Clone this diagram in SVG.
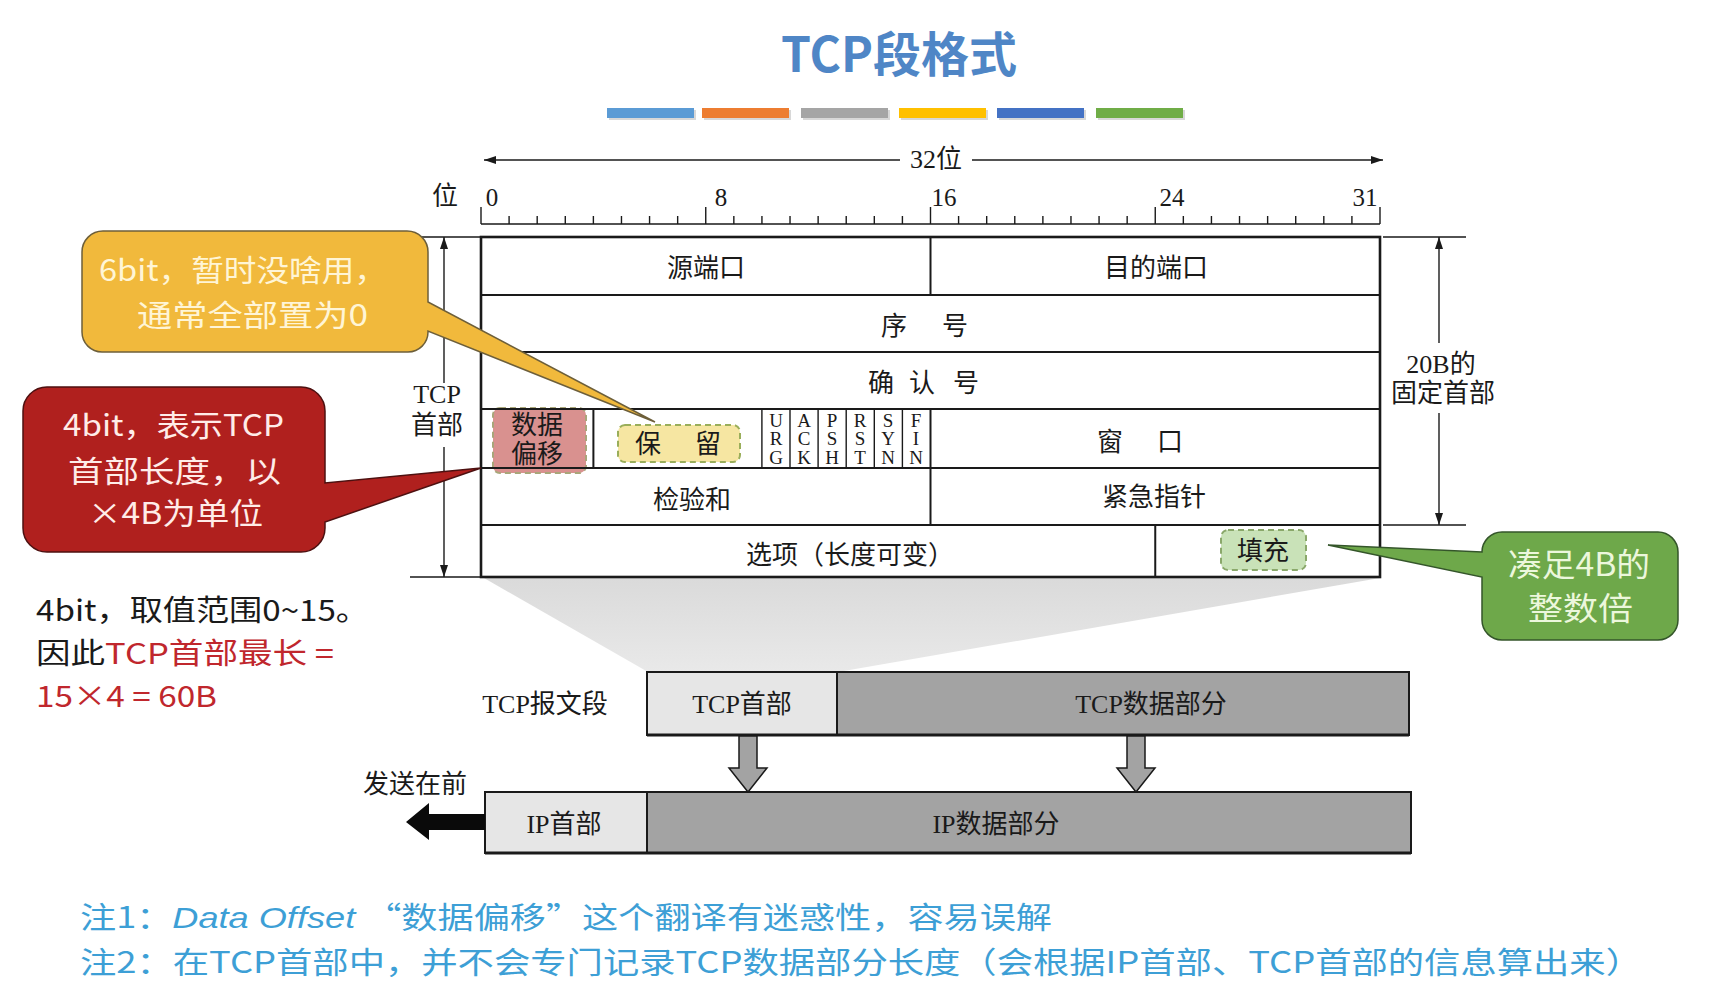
<svg xmlns="http://www.w3.org/2000/svg" width="1726" height="992" viewBox="0 0 1726 992">
<style>
.tb{font-family:"Liberation Serif","Noto Sans CJK SC",serif;font-size:26px;fill:#1a1a1a;text-anchor:middle}
.num{font-family:"Liberation Serif",serif;font-size:25px;fill:#1a1a1a;text-anchor:middle}
.flag{font-family:"Liberation Serif",serif;font-size:19px;fill:#1a1a1a;text-anchor:middle}
.ln{stroke:#1a1a1a;stroke-width:2;fill:none}
.thin{stroke:#1a1a1a;stroke-width:1.4;fill:none}
.sans{font-family:"Noto Sans CJK SC",sans-serif}
.hl{stroke-width:2;stroke-dasharray:6 4}
.box{stroke:#1a1a1a;stroke-width:2}
</style>
<defs>
<marker id="ah" viewBox="0 0 12 8" refX="12" refY="4" markerWidth="12" markerHeight="8" orient="auto-start-reverse" markerUnits="userSpaceOnUse"><path d="M0 0 L12 4 L0 8 Z" fill="#1a1a1a"/></marker>
<linearGradient id="sh" x1="0" y1="0" x2="0" y2="1"><stop offset="0" stop-color="#dadada"/><stop offset="1" stop-color="#e9e9e9"/></linearGradient>
</defs>
<rect x="0" y="0" width="1726" height="992" fill="#ffffff"/>

<g id="title">
<text x="899" y="72" class="sans" font-size="48" font-weight="700" fill="#4f86c6" text-anchor="middle">TCP段格式</text>
<rect x="609" y="110" width="87" height="10" fill="#d8d8d8"/>
<rect x="704" y="110" width="87" height="10" fill="#d8d8d8"/>
<rect x="803" y="110" width="87" height="10" fill="#d8d8d8"/>
<rect x="901" y="110" width="87" height="10" fill="#d8d8d8"/>
<rect x="999" y="110" width="87" height="10" fill="#d8d8d8"/>
<rect x="1098" y="110" width="87" height="10" fill="#d8d8d8"/>
<rect x="607" y="108" width="87" height="10" fill="#5b9bd5"/>
<rect x="702" y="108" width="87" height="10" fill="#ed7d31"/>
<rect x="801" y="108" width="87" height="10" fill="#a5a5a5"/>
<rect x="899" y="108" width="87" height="10" fill="#ffc000"/>
<rect x="997" y="108" width="87" height="10" fill="#4472c4"/>
<rect x="1096" y="108" width="87" height="10" fill="#70ad47"/>
</g>

<g id="shadow">
<polygon points="484,578 1380,578 838,672 648,672" fill="url(#sh)"/>
</g>

<g id="ruler">
<line x1="484" y1="160" x2="900" y2="160" class="thin" marker-start="url(#ah)"/>
<line x1="972" y1="160" x2="1383" y2="160" class="thin" marker-end="url(#ah)"/>
<text x="936" y="168" class="tb" font-size="24">32位</text>
<text x="445" y="205" class="tb" font-size="24">位</text>
<text x="492" y="206" class="num">0</text>
<text x="721" y="206" class="num">8</text>
<text x="944" y="206" class="num">16</text>
<text x="1172" y="206" class="num">24</text>
<text x="1365" y="206" class="num">31</text>
<path class="thin" d="M481 224 H1380 M481 207 V224 M705.75 207 V224 M930.5 207 V224 M1155.25 207 V224 M1380 207 V224
M509.09 216 V224 M537.19 216 V224 M565.28 216 V224 M593.38 216 V224 M621.47 216 V224 M649.56 216 V224 M677.66 216 V224
M733.84 216 V224 M761.94 216 V224 M790.03 216 V224 M818.13 216 V224 M846.22 216 V224 M874.31 216 V224 M902.41 216 V224
M958.59 216 V224 M986.69 216 V224 M1014.78 216 V224 M1042.88 216 V224 M1070.97 216 V224 M1099.06 216 V224 M1127.16 216 V224
M1183.34 216 V224 M1211.44 216 V224 M1239.53 216 V224 M1267.63 216 V224 M1295.72 216 V224 M1323.81 216 V224 M1351.91 216 V224"/>
</g>

<g id="dimensions">
<path class="thin" d="M410 237 H481 M410 577 H481 M1383 237 H1466 M1383 525 H1466"/>
<line x1="444" y1="383" x2="444" y2="237" class="thin" marker-end="url(#ah)"/>
<line x1="444" y1="447" x2="444" y2="577" class="thin" marker-end="url(#ah)"/>
<text x="437" y="403" class="tb" font-size="24">TCP</text>
<text x="437" y="434" class="tb" font-size="24">首部</text>
<line x1="1439" y1="343" x2="1439" y2="237" class="thin" marker-end="url(#ah)"/>
<line x1="1439" y1="413" x2="1439" y2="525" class="thin" marker-end="url(#ah)"/>
<text x="1441" y="373" class="tb" font-size="24">20B的</text>
<text x="1443" y="402" class="tb" font-size="24">固定首部</text>
</g>

<g id="header-table">
<rect x="493" y="408" width="93" height="65" rx="7" fill="#d9918f" stroke="#a9a67a" class="hl"/>
<rect x="618" y="425" width="122" height="37" rx="7" fill="#f6e6a2" stroke="#9aae5a" class="hl"/>
<rect x="1221" y="530" width="85" height="40" rx="7" fill="#c9e2b8" stroke="#8aa86a" class="hl"/>
<rect x="481" y="237" width="899" height="340" fill="none" stroke="#1a1a1a" stroke-width="2.6"/>
<path class="ln" d="M481 295 H1380 M481 352 H1380 M481 409 H1380 M481 468 H1380 M481 525 H1380
M930.5 237 V295 M593.4 409 V468 M930.5 409 V468 M930.5 468 V525 M1155.25 525 V577"/>
<path class="thin" d="M761.9 409 V468 M790 409 V468 M818.1 409 V468 M846.2 409 V468 M874.3 409 V468 M902.4 409 V468"/>
<text x="706" y="277" class="tb">源端口</text>
<text x="1156" y="277" class="tb">目的端口</text>
<text x="894" y="335" class="tb">序</text>
<text x="955" y="335" class="tb">号</text>
<text x="881" y="392" class="tb">确</text>
<text x="922" y="392" class="tb">认</text>
<text x="966" y="392" class="tb">号</text>
<text x="537" y="434" class="tb" font-size="25" fill="#6e2424">数据</text>
<text x="537" y="463" class="tb" font-size="25" fill="#6e2424">偏移</text>
<text x="648" y="453" class="tb" fill="#5a4a1a">保</text>
<text x="708" y="453" class="tb" fill="#5a4a1a">留</text>
<text x="776" y="427" class="flag">U</text><text x="776" y="445" class="flag">R</text><text x="776" y="464" class="flag">G</text>
<text x="804" y="427" class="flag">A</text><text x="804" y="445" class="flag">C</text><text x="804" y="464" class="flag">K</text>
<text x="832" y="427" class="flag">P</text><text x="832" y="445" class="flag">S</text><text x="832" y="464" class="flag">H</text>
<text x="860" y="427" class="flag">R</text><text x="860" y="445" class="flag">S</text><text x="860" y="464" class="flag">T</text>
<text x="888" y="427" class="flag">S</text><text x="888" y="445" class="flag">Y</text><text x="888" y="464" class="flag">N</text>
<text x="916" y="427" class="flag">F</text><text x="916" y="445" class="flag">I</text><text x="916" y="464" class="flag">N</text>
<text x="1110" y="451" class="tb">窗</text>
<text x="1170" y="451" class="tb">口</text>
<text x="692" y="509" class="tb">检验和</text>
<text x="1154" y="506" class="tb">紧急指针</text>
<text x="850" y="564" class="tb">选项（长度可变）</text>
<text x="1263" y="560" class="tb" fill="#2a3a1a">填充</text>
</g>

<g id="tcp-segment">
<text x="545" y="713" class="tb">TCP报文段</text>
<rect x="647" y="672" width="190" height="63" fill="#e6e6e6" class="box"/>
<rect x="837" y="672" width="572" height="63" fill="#a3a3a3" class="box"/>
<line x1="647" y1="735" x2="1409" y2="735" stroke="#1a1a1a" stroke-width="3"/>
<text x="742" y="713" class="tb">TCP首部</text>
<text x="1151" y="713" class="tb">TCP数据部分</text>
</g>

<g id="ip-datagram">
<rect x="485" y="792" width="162" height="61" fill="#e6e6e6" class="box"/>
<rect x="647" y="792" width="764" height="61" fill="#a3a3a3" class="box"/>
<line x1="485" y1="853" x2="1411" y2="853" stroke="#1a1a1a" stroke-width="3"/>
<text x="564" y="833" class="tb">IP首部</text>
<text x="996" y="833" class="tb">IP数据部分</text>
<text x="415" y="793" class="tb">发送在前</text>
</g>

<g id="connectors">
<polygon points="739,736 757,736 757,768 767,768 748,792 729,768 739,768" fill="#a3a3a3" stroke="#1a1a1a" stroke-width="1.5"/>
<polygon points="1127,736 1145,736 1145,768 1155,768 1136,792 1117,768 1127,768" fill="#a3a3a3" stroke="#1a1a1a" stroke-width="1.5"/>
<polygon points="485,814 429,814 429,803 406,822 429,840 429,830 485,830" fill="#0a0a0a"/>
</g>

<g id="left-note">
<text x="36" y="621" class="sans" font-size="29" fill="#1a1a1a" textLength="333" lengthAdjust="spacingAndGlyphs">4bit，取值范围0~15。</text>
<text x="36" y="664" class="sans" font-size="29" fill="#1a1a1a" textLength="298" lengthAdjust="spacingAndGlyphs">因此<tspan fill="#c0272d">TCP首部最长 =</tspan></text>
<text x="36" y="707" class="sans" font-size="29" fill="#c0272d" textLength="181" lengthAdjust="spacingAndGlyphs">15×4 = 60B</text>
</g>

<g id="callout-reserved">
<path d="M103 231 H407 A21 21 0 0 1 428 252 V302 L655 422 L428 331 V332 A20 20 0 0 1 408 352 H102 A20 20 0 0 1 82 332 V252 A21 21 0 0 1 103 231 Z" fill="#f1b93c" stroke="#6d5f3a" stroke-width="1.5"/>
<text x="99" y="281" class="sans" font-size="30" fill="#fff5d6" textLength="288" lengthAdjust="spacingAndGlyphs">6bit，暂时没啥用，</text>
<text x="137" y="326" class="sans" font-size="30" fill="#fff5d6" textLength="231" lengthAdjust="spacingAndGlyphs">通常全部置为0</text>
</g>

<g id="callout-offset">
<path d="M47 387 H301 A24 24 0 0 1 325 411 V483 L481 468 L325 522 V528 A24 24 0 0 1 301 552 H47 A24 24 0 0 1 23 528 V411 A24 24 0 0 1 47 387 Z" fill="#b0201e" stroke="#4d1010" stroke-width="1.5"/>
<text x="63" y="436" class="sans" font-size="30" fill="#ffece8" textLength="221" lengthAdjust="spacingAndGlyphs">4bit，表示TCP</text>
<text x="68" y="482" class="sans" font-size="30" fill="#ffece8" textLength="213" lengthAdjust="spacingAndGlyphs">首部长度，以</text>
<text x="88" y="524" class="sans" font-size="30" fill="#ffece8" textLength="175" lengthAdjust="spacingAndGlyphs">×4B为单位</text>
</g>

<g id="callout-padding">
<path d="M1502 532 H1658 A20 20 0 0 1 1678 552 V620 A20 20 0 0 1 1658 640 H1502 A20 20 0 0 1 1482 620 V577 L1328 545 L1482 552 A20 20 0 0 1 1502 532 Z" fill="#6ea84a" stroke="#34552a" stroke-width="1.5"/>
<text x="1508" y="576" class="sans" font-size="32" fill="#ecf7dc" textLength="142" lengthAdjust="spacingAndGlyphs">凑足4B的</text>
<text x="1528" y="620" class="sans" font-size="32" fill="#ecf7dc" textLength="105" lengthAdjust="spacingAndGlyphs">整数倍</text>
</g>

<g id="notes">
<text x="80" y="928" class="sans" font-size="30" fill="#3d9fd6" textLength="972" lengthAdjust="spacingAndGlyphs">注1：<tspan font-family="Liberation Sans" font-style="italic">Data Offset </tspan>“数据偏移”这个翻译有迷惑性，容易误解</text>
<text x="80" y="973" class="sans" font-size="30" fill="#3d9fd6" textLength="1562" lengthAdjust="spacingAndGlyphs">注2：在TCP首部中，并不会专门记录TCP数据部分长度（会根据IP首部、TCP首部的信息算出来）</text>
</g>
</svg>
